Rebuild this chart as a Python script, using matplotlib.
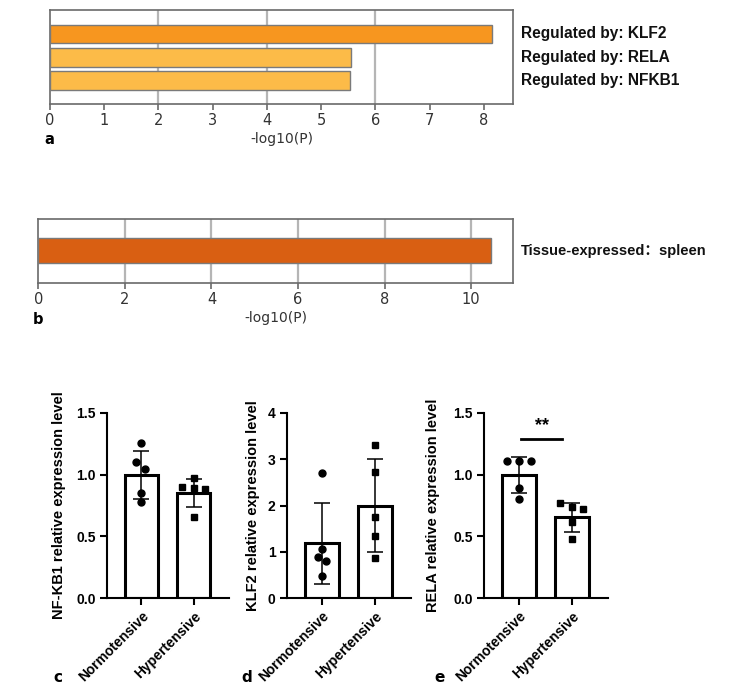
import matplotlib
matplotlib.use('Agg')

import numpy as np
import matplotlib.pyplot as plt
import matplotlib.ticker as ticker

plt.rcParams['font.family'] = ['Liberation Sans', 'Noto Sans CJK SC', 'DejaVu Sans']

# ---- data ----
enrich_terms = ["Regulated by: KLF2", "Regulated by: RELA", "Regulated by: NFKB1"]
enrich_logp = [8.15, 5.56, 5.54]
enrich_colors = ['#F7961F', '#FCBB48', '#FCBB48']

tissue_terms = ["Tissue-expressed：spleen"]
tissue_logp = [10.45]

groups = ["Normotensive", "Hypertensive"]

nfkb1_mean = [1.0, 0.85]
nfkb1_sd = [0.195, 0.115]
nfkb1_norm = [1.26, 1.10, 1.05, 0.85, 0.78]
nfkb1_hyp = [0.90, 0.97, 0.89, 0.88, 0.66]

klf2_mean = [1.18, 2.0]
klf2_sd = [0.88, 1.0]
klf2_norm = [2.71, 1.06, 0.88, 0.80, 0.48]
klf2_hyp = [3.31, 2.72, 1.75, 1.35, 0.87]

rela_mean = [1.0, 0.655]
rela_sd = [0.147, 0.117]
rela_norm = [1.11, 1.11, 1.11, 0.89, 0.80]
rela_hyp = [0.767, 0.734, 0.718, 0.617, 0.477]

W, H = 732, 699
fig = plt.figure(figsize=(W / 100, H / 100), dpi=100)


def px_axes(l, t, r, b):
    return fig.add_axes([l / W, 1 - b / H, (r - l) / W, (b - t) / H])


def enrich_panel(ax, vals, colors, labels, xmax, ticks, grid, ylim, labsize):
    y = np.arange(len(vals))
    ax.barh(y, vals, height=0.8, color=colors, edgecolor='#7a7a7a', linewidth=1.0, zorder=3)
    ax.set_xlim(0, xmax)
    ax.set_ylim(*ylim)
    ax.set_yticks([])
    ax.set_xticks(ticks)
    for g in grid:
        ax.axvline(g, color='#b5b5b5', lw=1.6, zorder=1)
    for s in ax.spines.values():
        s.set_color('#6a6a6a')
        s.set_linewidth(1.2)
    ax.tick_params(axis='x', length=4, width=1.2, color='#6a6a6a', labelsize=10.5,
                   labelcolor='#333333', pad=2.5)
    for t in ax.get_xticklabels():
        t.set_family('DejaVu Sans')
    for yi, lab in zip(y, labels):
        ax.text(1.017, yi, lab, transform=ax.get_yaxis_transform(), va='center', ha='left',
                fontsize=labsize, fontweight='bold', color='#111111')
    ax.set_xlabel('-log10(P)', family='DejaVu Sans', fontsize=10, color='#333333', labelpad=3)


# panel a
ax_a = px_axes(50, 10, 513, 104)
enrich_panel(ax_a, enrich_logp, enrich_colors, enrich_terms, 8.54, range(0, 9), [2, 4, 6],
             (3.01, -1.03), 11.2)

# panel b
ax_b = px_axes(38.3, 219, 512.7, 283)
enrich_panel(ax_b, tissue_logp, ['#D95F12'], tissue_terms, 10.96, range(0, 11, 2),
             [2, 4, 6, 8, 10], (1.04, -1.01), 10.5)

fig.text(49 / W, 1 - 140 / H, 'a', fontsize=10.5, fontweight='bold', family='DejaVu Sans', ha='center', va='center')
fig.text(38 / W, 1 - 320 / H, 'b', fontsize=10.5, fontweight='bold', family='DejaVu Sans', ha='center', va='center')


def expr_panel(ax, means, sds, norm, hyp, norm_jit, hyp_jit, ymax, yticks, fmt, ylabel, labx):
    x = np.arange(len(groups))
    ax.bar(x, means, width=0.64, color='white', edgecolor='black', linewidth=2.2, zorder=2)
    ax.errorbar(x, means, yerr=sds, fmt='none', ecolor='black', elinewidth=1.1,
                capsize=6, capthick=1.1, zorder=3)
    ax.plot(x[0] + np.array(norm_jit), norm, 'o', color='black', ms=5, zorder=4)
    ax.plot(x[1] + np.array(hyp_jit), hyp, 's', color='black', ms=4.8, zorder=4)
    ax.set_xlim(-0.66, 1.68)
    ax.set_ylim(0, ymax)
    ax.set_yticks(yticks)
    ax.yaxis.set_major_formatter(ticker.FormatStrFormatter(fmt))
    ax.set_xticks(x)
    ax.set_xticklabels(groups, rotation=45, ha='right', rotation_mode='anchor',
                       fontsize=10, fontweight='bold')
    for t in ax.get_yticklabels():
        t.set_fontweight('bold')
    ax.tick_params(axis='both', length=5, width=1.5, labelsize=10, pad=3)
    for s in ['top', 'right']:
        ax.spines[s].set_visible(False)
    for s in ['left', 'bottom']:
        ax.spines[s].set_linewidth(1.5)
    ax.spines['left'].set_bounds(0, ymax)
    ax.set_ylabel(ylabel, fontsize=10.5, fontweight='bold')
    ax.yaxis.set_label_coords(labx, 0.5)


ax_c = px_axes(107, 413, 229, 598)
expr_panel(ax_c, nfkb1_mean, nfkb1_sd, nfkb1_norm, nfkb1_hyp,
           [0, -0.1, 0.06, 0, 0], [-0.22, 0, 0, 0.22, 0],
           1.5, [0, 0.5, 1.0, 1.5], '%.1f', 'NF-KB1 relative expression level', -0.336)

ax_d = px_axes(286.7, 413, 410.7, 598)
expr_panel(ax_d, klf2_mean, klf2_sd, klf2_norm, klf2_hyp,
           [0, 0, -0.063, 0.076, 0], [0, 0, 0, 0, 0],
           4, [0, 1, 2, 3, 4], '%d', 'KLF2 relative expression level', -0.215)

ax_e = px_axes(484, 413, 607.7, 598)
expr_panel(ax_e, rela_mean, rela_sd, rela_norm, rela_hyp,
           [-0.23, 0, 0.22, 0, 0], [-0.22, 0, 0.22, 0, 0],
           1.5, [0, 0.5, 1.0, 1.5], '%.1f', 'RELA relative expression level', -0.356)

# significance marker
ax_e.plot([0.04, 0.82], [1.29, 1.29], color='black', lw=2.0)
ax_e.text(0.43, 1.33, '**', ha='center', va='bottom', fontsize=13, fontweight='bold')

for lab, xp in [('c', 58), ('d', 247), ('e', 440)]:
    fig.text(xp / W, 1 - 678 / H, lab, fontsize=11, fontweight='bold', family='DejaVu Sans',
             ha='center', va='center')

fig.savefig('out.png', dpi=100, facecolor='white')
